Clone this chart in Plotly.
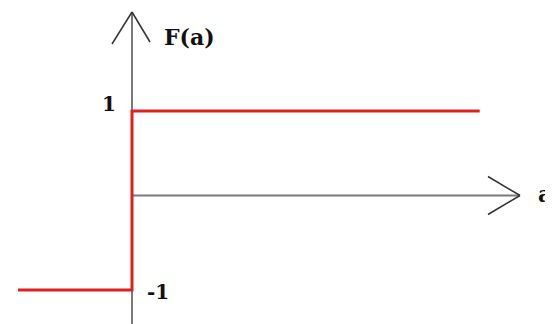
import plotly.graph_objects as go

# Step function F(a) = sign(a)
a_vals = [-1.0, 0.0, 0.0, 3.05]
f_vals = [-1, -1, 1, 1]
tick_labels = {"1": 1, "-1": -1}
axis_names = {"x": "a", "y": "F(a)"}

W, H = 553, 324
OFF = 8  # page body margin in the browser
px_x = 114.0   # pixels per unit a
px_y = 89.5    # pixels per unit F
x0_px, y0_px = 132 - OFF, 200.5 - OFF
xr = [-x0_px / px_x, (W - x0_px) / px_x]
yr = [-(H - y0_px) / px_y, y0_px / px_y]

def dx(p):
    return p / px_x

def dy(p):
    return p / px_y

fig = go.Figure()
fig.add_trace(go.Scatter(x=a_vals, y=f_vals, mode="lines",
                         line=dict(color="#e0201e", width=3), hoverinfo="skip"))

axis_col = "#7a7a7a"
head_col = "#333333"
x_end = xr[0] + dx(520 - OFF)
y_top = yr[1] - dy(12 - OFF)
y_ax = dy(5)  # hand-drawn horizontal axis sits slightly above zero
shapes = [
    dict(type="line", x0=0, x1=0, y0=yr[0], y1=y_top, line=dict(color=axis_col, width=2), layer="below"),
    dict(type="line", x0=0, x1=x_end, y0=y_ax, y1=y_ax, line=dict(color=axis_col, width=2), layer="below"),
    # y arrowhead
    dict(type="line", x0=-dx(20), x1=0, y0=y_top - dy(32), y1=y_top, line=dict(color=head_col, width=1.5)),
    dict(type="line", x0=dx(18), x1=0, y0=y_top - dy(30), y1=y_top, line=dict(color=head_col, width=1.5)),
    # x arrowhead
    dict(type="line", x0=x_end - dx(32), x1=x_end, y0=y_ax + dy(19), y1=y_ax, line=dict(color=head_col, width=1.5)),
    dict(type="line", x0=x_end - dx(32), x1=x_end, y0=y_ax - dy(19), y1=y_ax, line=dict(color=head_col, width=1.5)),
]

font = dict(family="DejaVu Serif, Liberation Serif, serif", size=20, color="#111111")
annotations = [
    dict(x=-dx(14), y=tick_labels["1"] + dy(7), text="<b>1</b>", showarrow=False,
         xanchor="right", yanchor="middle", font=font),
    dict(x=dx(13), y=tick_labels["-1"] - dy(2), text="<b>-1</b>", showarrow=False,
         xanchor="left", yanchor="middle", font=font),
    dict(x=dx(30), y=y_top - dy(25), text="<b>" + axis_names["y"] + "</b>", showarrow=False,
         xanchor="left", yanchor="middle", font=dict(font, size=22)),
    dict(x=x_end + dx(16), y=y_ax + dy(2), text="<b>" + axis_names["x"] + "</b>", showarrow=False,
         xanchor="left", yanchor="middle", font=dict(font, size=22)),
]

fig.update_layout(
    width=W, height=H, margin=dict(l=0, r=0, t=0, b=0),
    paper_bgcolor="white", plot_bgcolor="white", showlegend=False,
    xaxis=dict(range=xr, visible=False, fixedrange=True),
    yaxis=dict(range=yr, visible=False, fixedrange=True),
    shapes=shapes, annotations=annotations,
)
fig.write_html("out.html")
